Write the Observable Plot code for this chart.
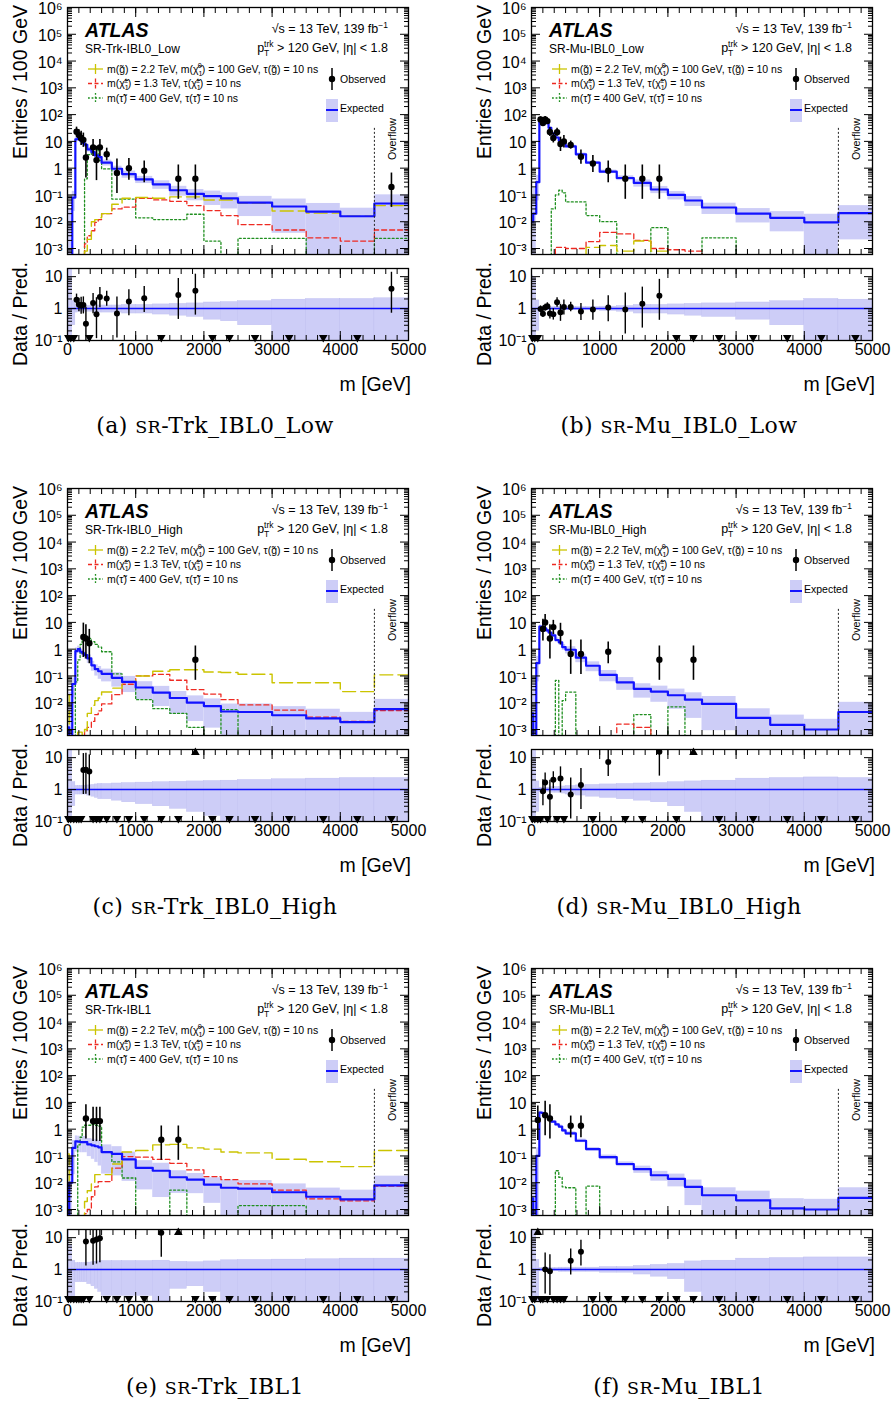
<!DOCTYPE html>
<html>
<head>
<meta charset="utf-8">
<script src="https://cdn.jsdelivr.net/npm/d3@7"></script>
<script src="https://cdn.jsdelivr.net/npm/@observablehq/plot@0.6"></script>
<style>
html,body{margin:0;padding:0;background:#fff;}
#wrap{position:relative;width:896px;height:1407px;overflow:hidden;background:#fff;}
#wrap > svg{position:absolute;}
</style>
</head>
<body>
<div id="wrap"></div>
<script>
// ---------- binning and ticks ----------
const EDGES = [0,25,70,115,150,185,215,250,290,350,400,450,500,650,800,1000,1250,1500,1750,2000,2250,2500,3000,3500,4000,4500,5000];
const X_MAJOR = [0,1000,2000,3000,4000,5000];
const Y_MAIN_MAJOR = [1e-3,1e-2,1e-1,1,10,1e2,1e3,1e4,1e5,1e6];
const Y_MAIN_LABELS = ["10⁻³","10⁻²","10⁻¹","1","10","10²","10³","10⁴","10⁵","10⁶"];
const Y_RATIO_MAJOR = [0.1,1,10];
const Y_RATIO_LABELS = ["10⁻¹","1","10"];

// ---------- panel texts ----------
const REGION_LABELS = ["SR-Trk-IBL0_Low","SR-Mu-IBL0_Low","SR-Trk-IBL0_High","SR-Mu-IBL0_High","SR-Trk-IBL1","SR-Mu-IBL1"];
const CAPTION_TAGS = ["(a)","(b)","(c)","(d)","(e)","(f)"];
const CAPTION_RESTS = ["-Trk_IBL0_Low","-Mu_IBL0_Low","-Trk_IBL0_High","-Mu_IBL0_High","-Trk_IBL1","-Mu_IBL1"];

// ---------- (a) SR-Trk-IBL0_Low ----------
const expA  = [3e-4,3e-4,0.08,12,13,10.5,8.8,7.5,5,4,3,2.6,1.6,0.95,0.6,0.38,0.25,0.15,0.11,0.09,0.075,0.052,0.037,0.024,0.016,0.048];
const relA  = [100,100,0.7,0.25,0.2,0.2,0.2,0.2,0.2,0.2,0.25,0.25,0.25,0.25,0.3,0.3,0.35,0.4,0.45,0.55,0.6,0.7,0.9,1.0,1.0,1.1];
const obsA  = [0,0,0,8,6,4,4,1,0,3,1,3,5,1,2,2,0,1,1,0,0,0,0,0,0,1];
const gluA  = [0,0,0,0,0,0,0,0.0008,0.0022,0.01,0.012,0.014,0.02,0.045,0.075,0.08,0.075,0.085,0.085,0.065,0.065,0.05,0.025,0.021,0.016,0.04];
const chaA  = [0,0,0,0,0,0,0.0006,0.0015,0.003,0.0046,0.0095,0.012,0.02,0.03,0.035,0.075,0.065,0.058,0.04,0.026,0.017,0.0078,0.0049,0.0025,0.0019,0.0049];
const stauA = [0,0,0,0,0,0,0,0.4,3.2,5.3,4.9,1.9,0.94,0.07,0.07,0.014,0.012,0.012,0.019,0.0019,0,0.0024,0.0024,0,0,0.0024];

// ---------- (b) SR-Mu-IBL0_Low ----------
const expB  = [0.01,0.02,0.3,68,70,62,48,32,20,14,10.5,9,6.5,3.3,1.6,0.74,0.43,0.28,0.16,0.1,0.062,0.034,0.02,0.014,0.0095,0.021];
const relB  = [10,8,0.8,0.1,0.1,0.1,0.1,0.1,0.1,0.12,0.12,0.12,0.12,0.12,0.12,0.15,0.2,0.3,0.3,0.35,0.4,0.45,0.55,0.7,1.0,0.9];
const obsB  = [0,0,0,23,17,20,20,9,8,11,4,5,11,4,3,2,1,1,1,0,0,0,0,0,0,0];
const gluB  = [0,0,0,0,0,0,0,0,0,0,0,0,0,0,0.0011,0.0013,0.0008,0.0019,0.0008,0,0,0,0,0,0,0];
const chaB  = [0,0,0,0,0,0,0,0,0,0.0011,0.0011,0.0011,0.001,0.001,0.0018,0.004,0.0035,0.002,0.001,0.0009,0.0008,0,0,0,0,0];
const stauB = [0,0,0,0,0,0,0,0,0.03,0.1,0.15,0.12,0.055,0.055,0.017,0.01,0,0,0.006,0,0,0.0025,0,0,0,0];

// ---------- (c) SR-Trk-IBL0_High ----------
const expC  = [0.0012,0.0003,0.05,0.85,1.0,0.8,0.7,0.6,0.45,0.25,0.18,0.15,0.12,0.085,0.06,0.037,0.024,0.015,0.01,0.0075,0.0047,0.0045,0.0034,0.0026,0.0019,0.0058];
const relC  = [20,80,0.7,0.3,0.3,0.3,0.3,0.3,0.35,0.4,0.45,0.5,0.5,0.55,0.6,0.65,0.7,0.75,0.8,0.85,0.9,1.0,1.1,1.2,1.3,1.3];
const obsC  = [0,0,0,0,0,0,1,1,1,0,0,0,0,0,0,0,0,0,1,0,0,0,0,0,0,0];
const gluC  = [0.02,0,0,0,0.0008,0.0008,0.0006,0.001,0.004,0.008,0.012,0.015,0.025,0.035,0.06,0.1,0.15,0.17,0.17,0.14,0.135,0.115,0.056,0.056,0.026,0.11];
const chaC  = [0,0,0,0,0,0,0,0.0009,0.0012,0.002,0.0036,0.005,0.009,0.02,0.049,0.1,0.115,0.069,0.031,0.021,0.013,0.0083,0.0053,0.0029,0.002,0.0051];
const stauC = [0,0,0,0.06,0.4,1.5,2.2,2.7,2.5,1.9,1.5,1.2,0.8,0.12,0.06,0.013,0.006,0.004,0.0012,0,0.0055,0,0,0,0,0];

// ---------- (d) SR-Mu-IBL0_High ----------
const expD  = [0.004,0.0005,0.3,6.9,6.5,6,5,4.2,3.3,2.2,1.8,1.2,0.95,0.48,0.24,0.11,0.058,0.033,0.026,0.019,0.013,0.009,0.0027,0.0015,0.001,0.0045];
const relD  = [5,100,0.8,0.15,0.15,0.15,0.15,0.15,0.2,0.2,0.2,0.25,0.3,0.35,0.4,0.45,0.5,0.55,0.6,0.7,0.8,0.9,1.2,1.3,1.4,1.3];
const obsD  = [0,0,0,0,2,3,0,1,4,0,2,0,1,1,0,2,0,0,1,0,1,0,0,0,0,0];
const gluD  = [0,0,0,0,0,0,0,0,0,0,0,0,0,0,0,0,0,0,0,0,0,0,0,0,0,0];
const chaD  = [0,0,0,0,0,0,0,0,0,0,0,0,0,0,0,0,0.0016,0.0012,0,0,0,0,0,0,0,0];
const stauD = [0,0,0,0,0,0,0,0,0,0.068,0,0.012,0.025,0,0,0,0,0.0036,0,0.007,0,0,0,0,0,0];

// ---------- (e) SR-Trk-IBL1 ----------
const expE  = [0.0005,0.01,0.2,0.35,0.34,0.33,0.33,0.33,0.27,0.25,0.23,0.21,0.14,0.12,0.075,0.036,0.028,0.016,0.013,0.0085,0.0065,0.006,0.0044,0.003,0.0024,0.008];
const relE  = [300,5,0.9,0.6,0.6,0.6,0.6,0.6,0.65,0.7,0.75,0.8,0.85,0.85,0.85,0.85,0.9,0.75,0.7,0.8,0.95,1.0,1.05,1.1,1.2,1.2];
const obsE  = [0,0,0,0,0,0,0,1,0,1,1,1,0,0,0,0,1,1,0,0,0,0,0,0,0,0];
const gluE  = [0.12,0,0,0,0,0,0,0.002,0.005,0.009,0.02,0.02,0.02,0.05,0.14,0.16,0.26,0.27,0.2,0.18,0.14,0.13,0.075,0.061,0.04,0.16];
const chaE  = [0.01,0,0,0,0,0,0,0.0007,0.001,0.003,0.007,0.011,0.011,0.035,0.095,0.09,0.075,0.053,0.03,0.017,0.013,0.009,0.0053,0.0025,0.0021,0.0075];
const stauE = [0,0,0,0,0.26,0.5,1.2,1.4,1.4,1.5,1.4,1.3,0.14,0.06,0.015,0,0,0.0053,0,0,0,0.0014,0.0014,0,0,0];

// ---------- (f) SR-Mu-IBL1 ----------
const expF  = [0.0026,0.0005,0.1,4.2,4.0,3.3,2.9,2.8,1.9,1.5,1.25,0.9,0.7,0.37,0.18,0.09,0.05,0.032,0.019,0.014,0.007,0.0034,0.0022,0.0011,0.001,0.0027];
const relF  = [40,100,1.0,0.12,0.12,0.12,0.12,0.12,0.12,0.12,0.15,0.15,0.15,0.15,0.15,0.2,0.2,0.3,0.4,0.5,0.8,0.9,1.2,1.3,1.4,1.4];
const obsF  = [0,0,1,0,0,1,0,1,0,0,0,0,2,2,0,0,0,0,0,0,0,0,0,0,0,0];
const gluF  = [0,0,0,0,0,0,0,0,0,0,0,0,0,0,0,0,0,0,0,0,0,0,0,0,0,0];
const chaF  = [0,0,0,0,0,0,0,0,0,0,0,0,0,0,0,0,0,0,0,0,0,0,0,0,0,0];
const stauF = [0,0,0,0,0,0,0,0,0,0.028,0.016,0.007,0.0065,0,0.0075,0,0,0,0,0,0,0,0,0,0,0];

// ---------- assemble ----------
const PANELS = [
  {exp:expA, rel:relA, obs:obsA, glu:gluA, cha:chaA, stau:stauA},
  {exp:expB, rel:relB, obs:obsB, glu:gluB, cha:chaB, stau:stauB},
  {exp:expC, rel:relC, obs:obsC, glu:gluC, cha:chaC, stau:stauC},
  {exp:expD, rel:relD, obs:obsD, glu:gluD, cha:chaD, stau:stauD},
  {exp:expE, rel:relE, obs:obsE, glu:gluE, cha:chaE, stau:stauE},
  {exp:expF, rel:relF, obs:obsF, glu:gluF, cha:chaF, stau:stauF}
].map((p,k)=>({...p, name:REGION_LABELS[k], tag:CAPTION_TAGS[k], rest:CAPTION_RESTS[k]}));

const FONT = "'Liberation Sans', Arial, Helvetica, sans-serif";
const BAND = "#cdcdf7", BLUE = "#1212ff", YEL = "#cbc400", RED = "#ee2a22", GRN = "#1f8f1f";
const FW = 341, ML = 67, MR = 24;
const COL_X = [0, 464], ROW_Y = [0, 481, 961];
const TINY = 1e-8;
const R_TOP = 18;

const X_MINOR = d3.range(0, 31).map(i => i * 500 / 3);
const Y_MAIN_MINOR = [];
for (let e = -4; e <= 5; e++) for (let m = 2; m <= 9; m++) { const v = m * Math.pow(10, e); if (v > 5.97e-4 && v < 1e6) Y_MAIN_MINOR.push(v); }
const Y_RATIO_MINOR = [0.2,0.3,0.4,0.5,0.6,0.7,0.8,0.9,2,3,4,5,6,7,8,9];

const bins = EDGES.slice(0,-1).map((lo,i)=>({i, lo, hi:EDGES[i+1], c:(lo+EDGES[i+1])/2, w:EDGES[i+1]-lo}));
const pos = v => v > 0 ? v : TINY;
function stepPts(vals){ return bins.flatMap(b=>[{x:b.lo,y:pos(vals[b.i])},{x:b.hi,y:pos(vals[b.i])}]); }
// 68% Poisson interval (Wilson–Hilferty approximation of Garwood)
function poissonLo(n){ if(n<=0) return 0; const a = 1 - 1/(9*n) - 1/(3*Math.sqrt(n)); return n*a*a*a; }
function poissonHi(n){ const m=n+1; const a = 1 - 1/(9*m) + 1/(3*Math.sqrt(m)); return m*a*a*a; }
const none = () => "";
const fmtFrom = (vals, labels) => d => { const k = vals.findIndex(v => Math.abs(Math.log10(v) - Math.log10(d)) < 1e-6); return k >= 0 ? labels[k] : ""; };

function frameAxes(yMajor, yMinor, yFmt, xLabels, yDy) {
  return [
    Plot.axisY({ticks:yMajor, anchor:"left", tickSize:0, tickPadding:5, tickFormat:yFmt, label:null, dy:yDy}),
    Plot.axisY({ticks:yMajor, anchor:"left", tickSize:-9, tickPadding:0, tickFormat:none, label:null}),
    Plot.axisY({ticks:yMinor, anchor:"left", tickSize:-5, tickPadding:0, tickFormat:none, label:null}),
    Plot.axisY({ticks:yMajor, anchor:"right", tickSize:-9, tickPadding:0, tickFormat:none, label:null}),
    Plot.axisY({ticks:yMinor, anchor:"right", tickSize:-5, tickPadding:0, tickFormat:none, label:null}),
    Plot.axisX({ticks:X_MAJOR, anchor:"bottom", tickSize:-9, tickPadding:12, tickFormat: xLabels ? (d => String(d)) : none, label:null}),
    Plot.axisX({ticks:X_MINOR, anchor:"bottom", tickSize:-5, tickPadding:0, tickFormat:none, label:null}),
    Plot.axisX({ticks:X_MAJOR, anchor:"top", tickSize:-9, tickPadding:0, tickFormat:none, label:null}),
    Plot.axisX({ticks:X_MINOR, anchor:"top", tickSize:-5, tickPadding:0, tickFormat:none, label:null}),
    Plot.frame({stroke:"black", strokeWidth:1.3})
  ];
}

function mainPlot(P){
  const obs = bins.filter(b=>P.obs[b.i]>0).map(b=>{const n=P.obs[b.i], s=100/b.w; return {c:b.c, v:n*s, lo:poissonLo(n)*s, hi:poissonHi(n)*s};});
  return Plot.plot({
    width: ML+FW+MR, height: 15+247+6, marginLeft: ML, marginRight: MR, marginTop: 15, marginBottom: 6,
    style: {fontFamily: FONT, fontSize: "16px", background: "transparent", color: "black"},
    x: {domain:[0,5000]},
    y: {type:"log", domain:[5.97e-4, 1e6]},
    marks: [
      Plot.rect(bins, {x1:"lo", x2:"hi", y1: b=>pos(P.exp[b.i]*(1-P.rel[b.i])), y2: b=>P.exp[b.i]*(1+P.rel[b.i]), fill: BAND, clip: true}),
      Plot.line(stepPts(P.stau), {x:"x", y:"y", stroke:GRN, strokeWidth:1.3, strokeDasharray:"2,2.2", clip:true}),
      Plot.line(stepPts(P.cha), {x:"x", y:"y", stroke:RED, strokeWidth:1.3, strokeDasharray:"5,3", clip:true}),
      Plot.line(stepPts(P.glu), {x:"x", y:"y", stroke:YEL, strokeWidth:1.4, strokeDasharray:"13,5", clip:true}),
      Plot.line(stepPts(P.exp), {x:"x", y:"y", stroke:BLUE, strokeWidth:2.2, clip:true}),
      Plot.ruleX([4500], {y1: TINY, y2: 33, stroke:"#222", strokeWidth:1, strokeDasharray:"2,2", clip:true}),
      Plot.ruleX(obs, {x:"c", y1:"lo", y2:"hi", stroke:"black", strokeWidth:1.6, clip:true}),
      Plot.dot(obs, {x:"c", y:"v", r:3.2, fill:"black", clip:true}),
      ...frameAxes(Y_MAIN_MAJOR, Y_MAIN_MINOR, fmtFrom(Y_MAIN_MAJOR, Y_MAIN_LABELS), false, 1.5)
    ]
  });
}

function ratioPlot(P){
  const pts=[], ups=[], downs=[];
  bins.forEach(b => {
    const n=P.obs[b.i], s=100/b.w, e=P.exp[b.i];
    if (n===0) { downs.push({c:b.c}); return; }
    const r = n*s/e;
    if (r > R_TOP) ups.push({c:b.c});
    else pts.push({c:b.c, r, lo: poissonLo(n)*s/e, hi: poissonHi(n)*s/e});
  });
  return Plot.plot({
    width: ML+FW+MR, height: 6+72+30, marginLeft: ML, marginRight: MR, marginTop: 6, marginBottom: 30,
    style: {fontFamily: FONT, fontSize: "16px", background: "transparent", color: "black"},
    x: {domain:[0,5000]},
    y: {type:"log", domain:[0.1, R_TOP]},
    marks: [
      Plot.rect(bins, {x1:"lo", x2:"hi", y1: b=>Math.max(1-P.rel[b.i], 0.01), y2: b=>1+P.rel[b.i], fill: BAND, stroke:"#bcbcef", strokeWidth:0.4, clip: true}),
      Plot.ruleY([1], {stroke:BLUE, strokeWidth:1.6}),
      Plot.ruleX(pts, {x:"c", y1:"lo", y2:"hi", stroke:"black", strokeWidth:1.4, clip:true}),
      Plot.dot(pts, {x:"c", y:"r", r:3, fill:"black", clip:true}),
      Plot.dot(downs, {x:"c", y:() => 0.124, symbol:"triangle", rotate:180, r:3.2, fill:"black"}),
      Plot.dot(ups, {x:"c", y:() => 14.5, symbol:"triangle", r:3.2, fill:"black"}),
      ...frameAxes(Y_RATIO_MAJOR, Y_RATIO_MINOR, fmtFrom(Y_RATIO_MAJOR, Y_RATIO_LABELS), true, 0)
    ]
  });
}

const wrap = document.getElementById("wrap");
PANELS.forEach((P,k)=>{
  const ox = COL_X[k%2], oy = ROW_Y[Math.floor(k/2)];
  const m = mainPlot(P); m.style.left = ox+"px"; m.style.top = (oy-8)+"px"; wrap.appendChild(m);
  const r = ratioPlot(P); r.style.left = ox+"px"; r.style.top = (oy+262)+"px"; wrap.appendChild(r);
});

// ---------- annotations (text, legend) ----------
function rich(g, x, y, segs, fs, anchor){
  const t = g.append("text").attr("x", x).attr("y", y).attr("font-size", fs).attr("text-anchor", anchor||"start");
  let cur = 0;
  segs.forEach(s => {
    let target = 0, size = fs;
    if (s[1]==="sub") { target = 0.3*fs; size = 0.68*fs; }
    if (s[1]==="sup" || s[1]==="supb") { target = -0.42*fs; size = 0.68*fs; }
    const ts = t.append("tspan").attr("font-size", size).attr("dy", (target-cur).toFixed(2)).text(s[0]);
    if (s[1]==="supb") ts.attr("dx", -s[2]);
    cur = target;
  });
  return t;
}

const ov = d3.select("#wrap").append("svg").attr("width",896).attr("height",1407)
  .style("left","0px").style("top","0px").attr("font-family", FONT).attr("fill","black");

PANELS.forEach((P,k)=>{
  const ox = COL_X[k%2], oy = ROW_Y[Math.floor(k/2)];
  const g = ov.append("g").attr("transform", `translate(${ox},${oy})`);
  g.append("text").attr("transform","translate(26.5,5) rotate(-90)").attr("text-anchor","end").attr("font-size",19.5).text("Entries / 100 GeV");
  g.append("text").attr("transform","translate(26.5,262) rotate(-90)").attr("text-anchor","end").attr("font-size",19.5).text("Data / Pred.");
  g.append("text").attr("x", ML+FW+3).attr("y", 391).attr("text-anchor","end").attr("font-size",19.5).text("m [GeV]");

  g.append("text").attr("x",85).attr("y",37).attr("font-size",19.5).attr("font-weight","bold").attr("font-style","italic").text("ATLAS");
  rich(g, 388, 33, [["√s = 13 TeV,  139 fb","n"],["−1","sup"]], 12.5, "end");
  g.append("text").attr("x",85).attr("y",53).attr("font-size",12).text(P.name);
  rich(g, 388, 52, [["p","n"],["T","sub"],["trk","supb",5.2],[" > 120 GeV, |η| < 1.8","n"]], 12.5, "end");

  // legend symbols
  const sym = (y, col, dash) => {
    g.append("line").attr("x1",88).attr("x2",103).attr("y1",y).attr("y2",y).attr("stroke",col).attr("stroke-width",1.3).attr("stroke-dasharray",dash);
    g.append("line").attr("x1",95.5).attr("x2",95.5).attr("y1",y-5).attr("y2",y+5).attr("stroke",col).attr("stroke-width",1.3).attr("stroke-dasharray",dash);
  };
  sym(69, YEL, null); sym(83.5, RED, "4,2.5"); sym(98, GRN, "1.8,1.8");
  rich(g, 107, 72.5, [["m(g̃) = 2.2 TeV, m(χ̃","n"],["1","sub"],["0","supb",4.8],[") = 100 GeV, τ(g̃) = 10 ns","n"]], 10.5);
  rich(g, 107, 87, [["m(χ̃","n"],["1","sub"],["±","supb",4.8],[") = 1.3 TeV, τ(χ̃","n"],["1","sub"],["±","supb",4.8],[") = 10 ns","n"]], 10.5);
  rich(g, 107, 101.5, [["m(τ̃) =  400 GeV, τ(τ̃) = 10 ns","n"]], 10.5);

  g.append("line").attr("x1",332).attr("x2",332).attr("y1",68).attr("y2",90).attr("stroke","black").attr("stroke-width",1.5);
  g.append("circle").attr("cx",332).attr("cy",79).attr("r",3.2).attr("fill","black");
  g.append("text").attr("x",340).attr("y",82.5).attr("font-size",10.5).text("Observed");
  g.append("rect").attr("x",326).attr("y",99).attr("width",12).attr("height",23).attr("fill",BAND);
  g.append("line").attr("x1",326).attr("x2",338).attr("y1",110).attr("y2",110).attr("stroke",BLUE).attr("stroke-width",2);
  g.append("text").attr("x",340).attr("y",112).attr("font-size",10.5).text("Expected");

  g.append("text").attr("transform","translate(396,160) rotate(-90)").attr("font-size",10.6).text("Overflow");

  const cap = g.append("text").attr("x", 215).attr("y", 433).attr("text-anchor","middle")
    .attr("font-family","'DejaVu Serif', 'Liberation Serif', serif").attr("font-size",22).attr("letter-spacing","0.4px");
  cap.append("tspan").text(P.tag + " ");
  cap.append("tspan").attr("font-size",17.5).text("SR");
  cap.append("tspan").text(P.rest);
});
</script>
</body>
</html>
